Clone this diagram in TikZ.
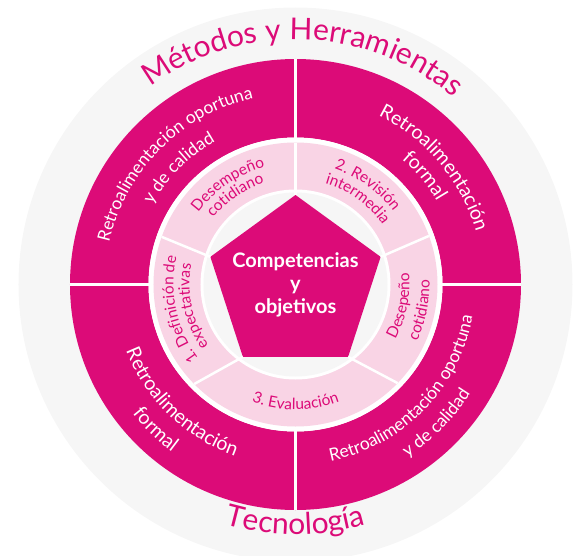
\documentclass[tikz,border=0pt]{standalone}
\usepackage{fontspec}
\setmainfont{Lato}
\usetikzlibrary{shapes.geometric,decorations.text}
\definecolor{rosa}{RGB}{220,11,120}
\definecolor{rosaclaro}{RGB}{249,212,229}
\definecolor{fondo}{RGB}{246,246,246}
\newcommand{\bandtitle}{\color{rosa}\fontsize{30}{30}\selectfont}
\newcommand{\quadtext}{\color{white}\fontsize{17.5}{17.5}\selectfont}
\newcommand{\formaltext}{\color{white}\fontsize{19.5}{19.5}\selectfont}
\newcommand{\ringtext}{\color{rosa}\fontsize{15.5}{15.5}\selectfont}
% radius, start angle, end angle, format, text
\newcommand{\arctext}[5]{%
  \path[decorate,decoration={text along path,text align=center,
    text={|#4|#5}}] (#2:#1) arc[start angle=#2,end angle=#3,radius=#1];}

\begin{document}
\begin{tikzpicture}[x=1pt,y=1pt,
    gap/.style={draw=white,line width=3.3pt},
    divider/.style={draw=white,line width=2.5pt},
    core/.style={regular polygon,regular polygon sides=5,minimum size=179pt,
      inner sep=0pt,outer sep=0pt,fill=rosa},
    coretext/.style={text=white,align=center,inner sep=0pt,
      font=\bfseries\fontsize{20}{23}\selectfont}]
  \useasboundingbox (-295.5,-270.5) rectangle (277.5,284.5);
  \clip (-295.5,-270.5) rectangle (277.5,284.5);
  \fill[fondo] (0,0) circle[radius=277pt];
  \fill[rosa,even odd rule] (0,0) circle[radius=225.5pt] (0,0) circle[radius=147pt];
  \draw[gap] (-225.5,0) -- (225.5,0);
  \draw[gap] (0,-225.5) -- (0,225.5);
  \fill[white] (0,0) circle[radius=147pt];
  \fill[rosaclaro] (0,0) circle[radius=142pt];
  \fill[white] (0,0) circle[radius=95pt];
  \fill[fondo] (0,0) circle[radius=92pt];
  \node[core] (core) at (0,0) {};
  \node[coretext] (goals) at (core.center) {Competencias\\y\\objetivos};
  \foreach \i/\a in {1/90,2/160.4,3/224.5,4/316,5/20}
    \draw[divider] (core.corner \i) -- (\a:142pt);
  \arctext{245pt}{140}{36}{\bandtitle}{Métodos y Herramientas}
  \arctext{250pt}{225}{315}{\bandtitle}{Tecnología}
  \arctext{191pt}{185}{85}{\quadtext}{Retroalimentación oportuna}
  \arctext{164pt}{185}{85}{\quadtext}{y de calidad}
  \arctext{188pt}{95}{-15}{\formaltext}{Retroalimentación}
  \arctext{164pt}{95}{-15}{\formaltext}{formal}
  \arctext{182pt}{171}{281}{\formaltext}{Retroalimentación}
  \arctext{208pt}{171}{281}{\formaltext}{formal}
  \arctext{180pt}{260}{371}{\quadtext}{Retroalimentación oportuna}
  \arctext{206pt}{260}{371}{\quadtext}{y de calidad}
  \arctext{121pt}{164}{84}{\ringtext}{Desempeño}
  \arctext{106pt}{164}{84}{\ringtext}{cotidiano}
  \arctext{122pt}{94}{14}{\ringtext}{2. Revisión}
  \arctext{105.5pt}{94}{14}{\ringtext}{intermedia}
  \arctext{122pt}{237}{147}{\ringtext}{1. Definición de}
  \arctext{106pt}{237}{147}{\ringtext}{expectativas}
  \arctext{114pt}{-56}{33}{\ringtext}{Desepeño}
  \arctext{134pt}{-56}{33}{\ringtext}{cotidiano}
  \arctext{125pt}{220}{320}{\ringtext}{3. Evaluación}
\end{tikzpicture}
\end{document}
